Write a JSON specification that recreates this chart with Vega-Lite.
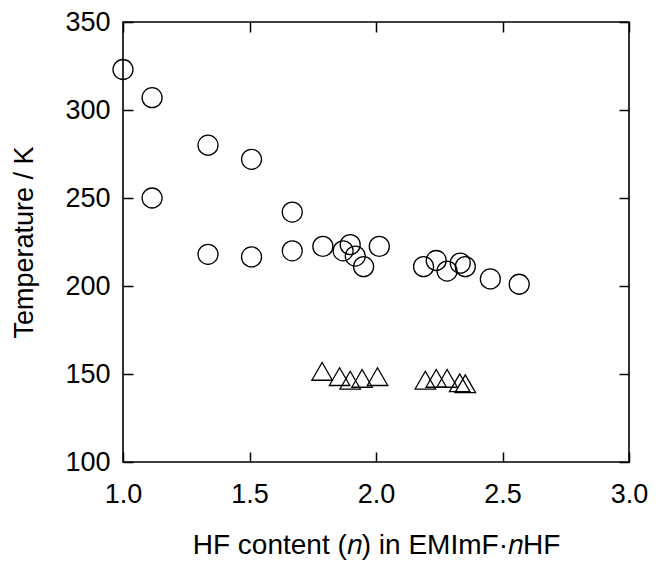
{
  "$schema": "https://vega.github.io/schema/vega-lite/v6.json",
  "autosize": "none",
  "width": 506,
  "height": 440,
  "padding": {"left": 123, "top": 22, "right": 29, "bottom": 104},
  "background": "white",
  "config": {
    "view": {"stroke": "black", "strokeWidth": 1.6},
    "font": "Liberation Sans",
    "axis": {
      "domain": false,
      "grid": false,
      "tickSize": -10,
      "tickWidth": 1.5,
      "tickColor": "black",
      "labelFont": "Liberation Sans",
      "labelFontSize": 27,
      "labelColor": "black",
      "labelFlush": false,
      "labelOverlap": false,
      "titleFont": "Liberation Sans",
      "titleFontWeight": "normal",
      "titleColor": "black"
    }
  },
  "data": {
    "values": [
      {"n": 1.0, "T": 323, "phase": "circle"},
      {"n": 1.115, "T": 307, "phase": "circle"},
      {"n": 1.115, "T": 250, "phase": "circle"},
      {"n": 1.336, "T": 280, "phase": "circle"},
      {"n": 1.336, "T": 218, "phase": "circle"},
      {"n": 1.508, "T": 272, "phase": "circle"},
      {"n": 1.508, "T": 216.5, "phase": "circle"},
      {"n": 1.669, "T": 242, "phase": "circle"},
      {"n": 1.669, "T": 220, "phase": "circle"},
      {"n": 1.79, "T": 222.5, "phase": "circle"},
      {"n": 1.87, "T": 220, "phase": "circle"},
      {"n": 1.898, "T": 223.5, "phase": "circle"},
      {"n": 1.918, "T": 217, "phase": "circle"},
      {"n": 1.951, "T": 211, "phase": "circle"},
      {"n": 2.013, "T": 222.5, "phase": "circle"},
      {"n": 2.188, "T": 211, "phase": "circle"},
      {"n": 2.238, "T": 214.5, "phase": "circle"},
      {"n": 2.281, "T": 208.5, "phase": "circle"},
      {"n": 2.333, "T": 213, "phase": "circle"},
      {"n": 2.353, "T": 211, "phase": "circle"},
      {"n": 2.452, "T": 204, "phase": "circle"},
      {"n": 2.566, "T": 201, "phase": "circle"},
      {"n": 1.787, "T": 151.5, "phase": "triangle"},
      {"n": 1.856, "T": 148.5, "phase": "triangle"},
      {"n": 1.898, "T": 146.5, "phase": "triangle"},
      {"n": 1.945, "T": 147.5, "phase": "triangle"},
      {"n": 2.006, "T": 148.5, "phase": "triangle"},
      {"n": 2.195, "T": 146.5, "phase": "triangle"},
      {"n": 2.238, "T": 147.5, "phase": "triangle"},
      {"n": 2.281, "T": 147.5, "phase": "triangle"},
      {"n": 2.331, "T": 145, "phase": "triangle"},
      {"n": 2.353, "T": 144.5, "phase": "triangle"}
    ]
  },
  "layer": [
    {
      "transform": [{"filter": "datum.phase === 'circle'"}],
      "mark": {"type": "point", "shape": "circle", "filled": false, "stroke": "black", "strokeWidth": 1.3, "size": 400, "opacity": 1},
      "encoding": {
        "x": {"field": "n", "type": "quantitative", "scale": {"domain": [1, 3], "nice": false, "zero": false},
          "axis": {"orient": "bottom", "values": [1, 1.5, 2, 2.5, 3], "format": ".1f", "labelPadding": 29, "title": "HF content (𝑛) in EMImF·𝑛HF", "titleFontSize": 28, "titlePadding": 24}},
        "y": {"field": "T", "type": "quantitative", "scale": {"domain": [100, 350], "nice": false, "zero": false},
          "axis": {"orient": "left", "values": [100, 150, 200, 250, 300, 350], "labelPadding": 23, "title": "Temperature / K", "titleFontSize": 27, "titlePadding": 26}}
      }
    },
    {
      "transform": [{"filter": "datum.phase === 'triangle'"}],
      "mark": {"type": "point", "shape": "triangle-up", "filled": false, "stroke": "black", "strokeWidth": 1.3, "size": 420, "opacity": 1},
      "encoding": {
        "x": {"field": "n", "type": "quantitative",
          "axis": {"orient": "top", "values": [1, 1.5, 2, 2.5, 3], "labels": false, "title": null}},
        "y": {"field": "T", "type": "quantitative",
          "axis": {"orient": "right", "values": [100, 150, 200, 250, 300, 350], "labels": false, "title": null}}
      }
    }
  ],
  "resolve": {"axis": {"x": "independent", "y": "independent"}}
}
